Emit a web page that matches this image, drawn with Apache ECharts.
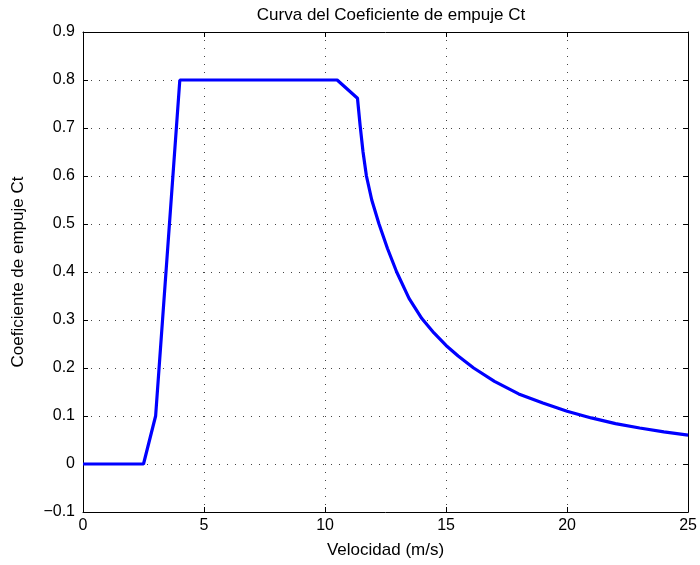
<!DOCTYPE html>
<html>
<head>
<meta charset="utf-8">
<script src="https://cdn.jsdelivr.net/npm/echarts@6/dist/echarts.min.js"></script>
<style>html,body{margin:0;padding:0;background:#fff;}#c{width:700px;height:565px;}</style>
</head>
<body>
<div id="c"></div>
<script>
var velocity = [0, 2.5, 3, 4, 10.5, 11.34, 11.45, 11.57, 11.71, 11.93, 12.23, 12.58, 12.96, 13.47, 14, 14.5, 15, 15.5, 16.14, 17, 18, 19, 20, 21, 22, 23, 24, 25];
var ct = [0, 0, 0.1, 0.8, 0.8, 0.762, 0.705, 0.65, 0.60, 0.55, 0.50, 0.449, 0.40, 0.345, 0.303, 0.273, 0.247, 0.225, 0.200, 0.172, 0.146, 0.127, 0.110, 0.096, 0.084, 0.075, 0.067, 0.060];
var xTicks = [0, 5, 10, 15, 20, 25];
var yTicks = [-0.1, 0, 0.1, 0.2, 0.3, 0.4, 0.5, 0.6, 0.7, 0.8, 0.9];

var pts = velocity.map(function (v, i) { return [v, ct[i]]; });
var font = 'Liberation Sans, Arial, Helvetica, sans-serif';
var chart = echarts.init(document.getElementById('c'));
function fmtY(v) {
  var s = (Math.round(v * 10) / 10).toString();
  return s.replace('-', '\u2212');
}
var dotted = { show: true, lineStyle: { color: '#444', type: [1, 7], width: 1 } };
chart.setOption({
  animation: false,
  backgroundColor: '#fff',
  title: {
    text: 'Curva del Coeficiente de empuje Ct',
    left: 386, top: 2, textAlign: 'center',
    textStyle: { fontFamily: font, fontSize: 17, fontWeight: 'normal', color: '#000' }
  },
  grid: { left: 83, right: 10, top: 32, bottom: 53 },
  xAxis: [{
    type: 'value', min: 0, max: 25, interval: 5,
    name: 'Velocidad (m/s)', nameLocation: 'middle', nameGap: 30,
    nameTextStyle: { fontFamily: font, fontSize: 17, color: '#000' },
    axisLine: { show: true, onZero: false, lineStyle: { color: '#000', width: 1 } },
    axisTick: { show: true, inside: true, length: 5, lineStyle: { color: '#000' } },
    axisLabel: { fontFamily: font, fontSize: 16, color: '#000', margin: 6 },
    splitLine: dotted
  }, {
    type: 'value', min: 0, max: 25, interval: 5, position: 'top',
    axisLine: { show: true, onZero: false, lineStyle: { color: '#000', width: 1 } },
    axisTick: { show: true, inside: true, length: 5, lineStyle: { color: '#000' } },
    axisLabel: { show: false }, splitLine: { show: false }
  }],
  yAxis: [{
    type: 'value', min: -0.1, max: 0.9, interval: 0.1,
    name: 'Coeficiente de empuje Ct', nameLocation: 'middle', nameGap: 56,
    nameTextStyle: { fontFamily: font, fontSize: 17, color: '#000' },
    axisLine: { show: true, onZero: false, lineStyle: { color: '#000', width: 1 } },
    axisTick: { show: true, inside: true, length: 5, lineStyle: { color: '#000' } },
    axisLabel: { fontFamily: font, fontSize: 16, color: '#000', margin: 8, formatter: fmtY },
    splitLine: dotted
  }, {
    type: 'value', min: -0.1, max: 0.9, interval: 0.1, position: 'right',
    axisLine: { show: true, onZero: false, lineStyle: { color: '#000', width: 1 } },
    axisTick: { show: true, inside: true, length: 5, lineStyle: { color: '#000' } },
    axisLabel: { show: false }, splitLine: { show: false }
  }],
  series: [{
    type: 'line', data: pts, xAxisIndex: 0, yAxisIndex: 0,
    showSymbol: false, smooth: false,
    lineStyle: { color: '#0000ff', width: 3.2 },
    itemStyle: { color: '#0000ff' }
  }]
});
</script>
</body>
</html>
